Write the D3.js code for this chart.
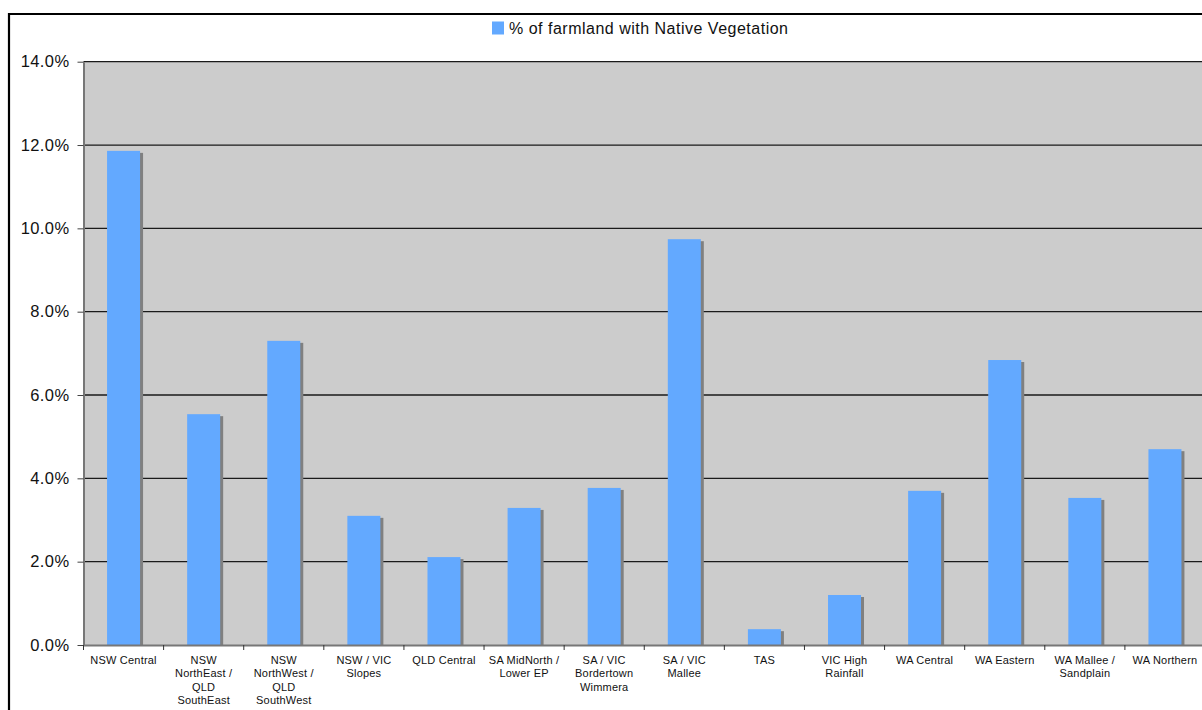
<!DOCTYPE html>
<html>
<head>
<meta charset="utf-8">
<script src="https://cdn.jsdelivr.net/npm/d3@7"></script>
<style>
  html, body { margin: 0; padding: 0; background: #fff; overflow: hidden; }
  svg { display: block; font-family: Arial, "Liberation Sans", sans-serif; }
</style>
</head>
<body>
<svg id="chart" width="1202" height="710"></svg>
<script>
// Regions (label lines separated by "\n")
const categories = [
  "NSW Central",
  "NSW\nNorthEast /\nQLD\nSouthEast",
  "NSW\nNorthWest /\nQLD\nSouthWest",
  "NSW / VIC\nSlopes",
  "QLD Central",
  "SA MidNorth /\nLower EP",
  "SA / VIC\nBordertown\nWimmera",
  "SA / VIC\nMallee",
  "TAS",
  "VIC High\nRainfall",
  "WA Central",
  "WA Eastern",
  "WA Mallee /\nSandplain",
  "WA Northern"
];
// Share of farmland with native vegetation (%)
const nativeVeg = [11.86, 5.54, 7.30, 3.10, 2.11, 3.29, 3.77, 9.74, 0.38, 1.20, 3.70, 6.84, 3.53, 4.70];
const yTicks = [0, 2, 4, 6, 8, 10, 12, 14];
const seriesName = "% of farmland with Native Vegetation";

const svg = d3.select("#chart");

const plot = { left: 83.5, top: 61.7, right: 1205, bottom: 645 };

const x = d3.scaleBand()
  .domain(categories)
  .range([plot.left, plot.right])
  .paddingInner(0.588)
  .paddingOuter(0.294);

const y = d3.scaleLinear().domain([0, 14]).range([plot.bottom, plot.top]);

// outer frame (only the top and left edges fall inside the view)
svg.append("path")
  .attr("d", "M9,720V14H1210")
  .attr("fill", "none").attr("stroke", "#000").attr("stroke-width", 2.2);

// plot background
svg.append("rect")
  .attr("x", plot.left).attr("y", plot.top)
  .attr("width", plot.right - plot.left).attr("height", plot.bottom - plot.top)
  .attr("fill", "#cccccc");

// gridlines
svg.append("g").selectAll("line")
  .data(yTicks.filter(d => d > 0))
  .join("line")
  .attr("x1", plot.left).attr("x2", plot.right)
  .attr("y1", d => y(d)).attr("y2", d => y(d))
  .attr("stroke", "#1a1a1a").attr("stroke-width", 1.3);

// bar shadows
svg.append("g").selectAll("rect")
  .data(nativeVeg)
  .join("rect")
  .attr("x", (d, i) => x(categories[i]) + 3)
  .attr("y", d => y(d) + 2)
  .attr("width", x.bandwidth())
  .attr("height", d => Math.max(0, plot.bottom - y(d) - 2))
  .attr("fill", "#808080");

// bars
svg.append("g").selectAll("rect")
  .data(nativeVeg)
  .join("rect")
  .attr("x", (d, i) => x(categories[i]))
  .attr("y", d => y(d))
  .attr("width", x.bandwidth())
  .attr("height", d => plot.bottom - y(d))
  .attr("fill", "#63a9ff");

// y axis
const yAxis = d3.axisLeft(y)
  .tickValues(yTicks)
  .tickFormat(d => d.toFixed(1) + "%")
  .tickSize(6)
  .tickSizeOuter(0)
  .tickPadding(8);
const gy = svg.append("g").attr("transform", `translate(${plot.left},0)`).call(yAxis);
gy.attr("font-size", null).attr("font-family", null);
gy.select(".domain").attr("stroke", "#777").attr("stroke-width", 2);
gy.selectAll(".tick line").attr("stroke", "#444");
gy.selectAll(".tick text")
  .style("font-size", "16.5px")
  .attr("letter-spacing", 0.4)
  .attr("fill", "#111");

// x axis
const xAxis = d3.axisBottom(x).tickSize(0).tickSizeOuter(0).tickFormat("");
const gx = svg.append("g").attr("transform", `translate(0,${plot.bottom})`).call(xAxis);
gx.select(".domain").attr("stroke", "#777").attr("stroke-width", 2);

// category boundary ticks
const step = x.step();
svg.append("g").selectAll("line")
  .data(d3.range(categories.length + 1))
  .join("line")
  .attr("x1", i => plot.left + i * step).attr("x2", i => plot.left + i * step)
  .attr("y1", plot.bottom).attr("y2", plot.bottom + 5)
  .attr("stroke", "#333").attr("stroke-width", 1);

// category labels
const lbl = svg.append("g")
  .attr("font-size", 11)
  .attr("letter-spacing", 0.2)
  .attr("fill", "#111")
  .attr("text-anchor", "middle");
categories.forEach(c => {
  const cx = x(c) + x.bandwidth() / 2;
  const t = lbl.append("text").attr("x", cx).attr("y", 664);
  c.split("\n").forEach((line, k) => {
    t.append("tspan").attr("x", cx).attr("dy", k === 0 ? 0 : 13.3).text(line);
  });
});

// legend
const lg = svg.append("g");
lg.append("rect").attr("x", 492).attr("y", 21.5).attr("width", 12).attr("height", 13).attr("fill", "#63a9ff");
lg.append("text")
  .attr("x", 509).attr("y", 33.5)
  .attr("font-size", 16)
  .attr("letter-spacing", 0.5)
  .attr("fill", "#111")
  .text(seriesName);
</script>
</body>
</html>
